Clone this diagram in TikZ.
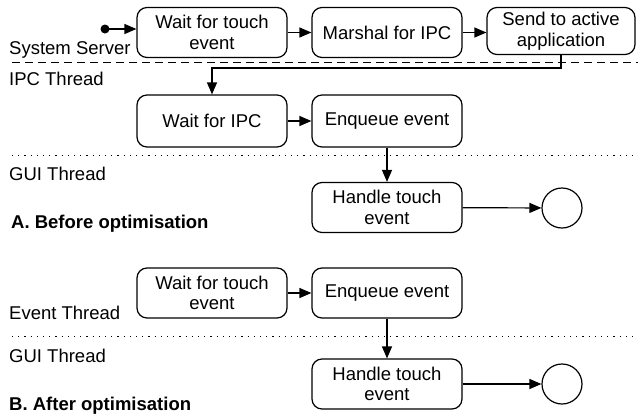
\documentclass[tikz,border=0pt]{standalone}
\usepackage{fontspec}
\setmainfont{Liberation Sans}
\usetikzlibrary{arrows.meta}
\tikzset{
  proc/.style={draw, line width=1.2pt, rounded corners=10pt, minimum width=150pt, minimum height=50pt, align=center, inner sep=2pt, font=\fontsize{18.5}{20.5}\selectfont},
  lane/.style={anchor=west, font=\fontsize{18.5}{20.5}\selectfont, inner sep=0pt},
  title/.style={anchor=west, font=\fontsize{18.5}{20.5}\selectfont\bfseries, inner sep=0pt},
  flow/.style={line width=1.2pt, -{Triangle[length=12pt,width=10pt]}},
  endc/.style={draw, circle, line width=1.2pt, minimum size=40pt, inner sep=0pt},
  sep/.style={line width=1pt}
}
\begin{document}
\begin{tikzpicture}[x=1pt,y=-1pt]
\useasboundingbox (0,0) rectangle (638,416);
% separators
\draw[sep, dash pattern=on 8pt off 5pt] (12,62) -- (638,62);
\draw[sep, dash pattern=on 1.2pt off 5pt] (12,155) -- (638,155);
\draw[sep, dash pattern=on 1.2pt off 5pt] (12,336) -- (638,336);
% lane labels
\node[lane] (ls) at (9,50) {System Server};
\node[lane] (li) at (9,79) {IPC Thread};
\node[lane] (lg1) at (9,174) {GUI Thread};
\node[title] (ta) at (11,224) {A. Before optimisation};
\node[lane] (le) at (9,313) {Event Thread};
\node[lane] (lg2) at (9,356) {GUI Thread};
\node[title] (tb) at (9,406) {B. After optimisation};
% part A
\fill (105,29) circle (4.5pt) coordinate (start);
\node[proc] (w1) at (212,32.5) {Wait for touch\\event};
\node[proc] (m1) at (387,32.5) {Marshal for IPC};
\node[proc, minimum width=148pt, minimum height=47pt] (s1) at (561,31) {Send to active\\application};
\node[proc, minimum height=52pt] (wi) at (212,121) {Wait for IPC};
\node[proc, minimum height=52pt] (e1) at (387,121) {Enqueue event};
\node[proc] (h1) at (387,207.5) {Handle touch\\event};
\node[endc] (c1) at (562,208) {};
\draw[flow] (start) -- (w1.west |- start);
\draw[flow] (w1) -- (m1);
\draw[flow] (m1) -- (s1.west |- m1);
\draw[flow] (s1.south) |- (212,68) -- (wi.north);
\draw[flow] (wi) -- (e1);
\draw[flow] (e1) -- (h1);
\draw[flow] (h1) -- (c1);
% part B
\node[proc] (w2) at (212,293) {Wait for touch\\event};
\node[proc] (e2) at (387,293) {Enqueue event};
\node[proc] (h2) at (387,384) {Handle touch\\event};
\node[endc] (c2) at (562,384) {};
\draw[flow] (w2) -- (e2);
\draw[flow] (e2) -- (h2);
\draw[flow] (h2) -- (c2);
\end{tikzpicture}
\end{document}
